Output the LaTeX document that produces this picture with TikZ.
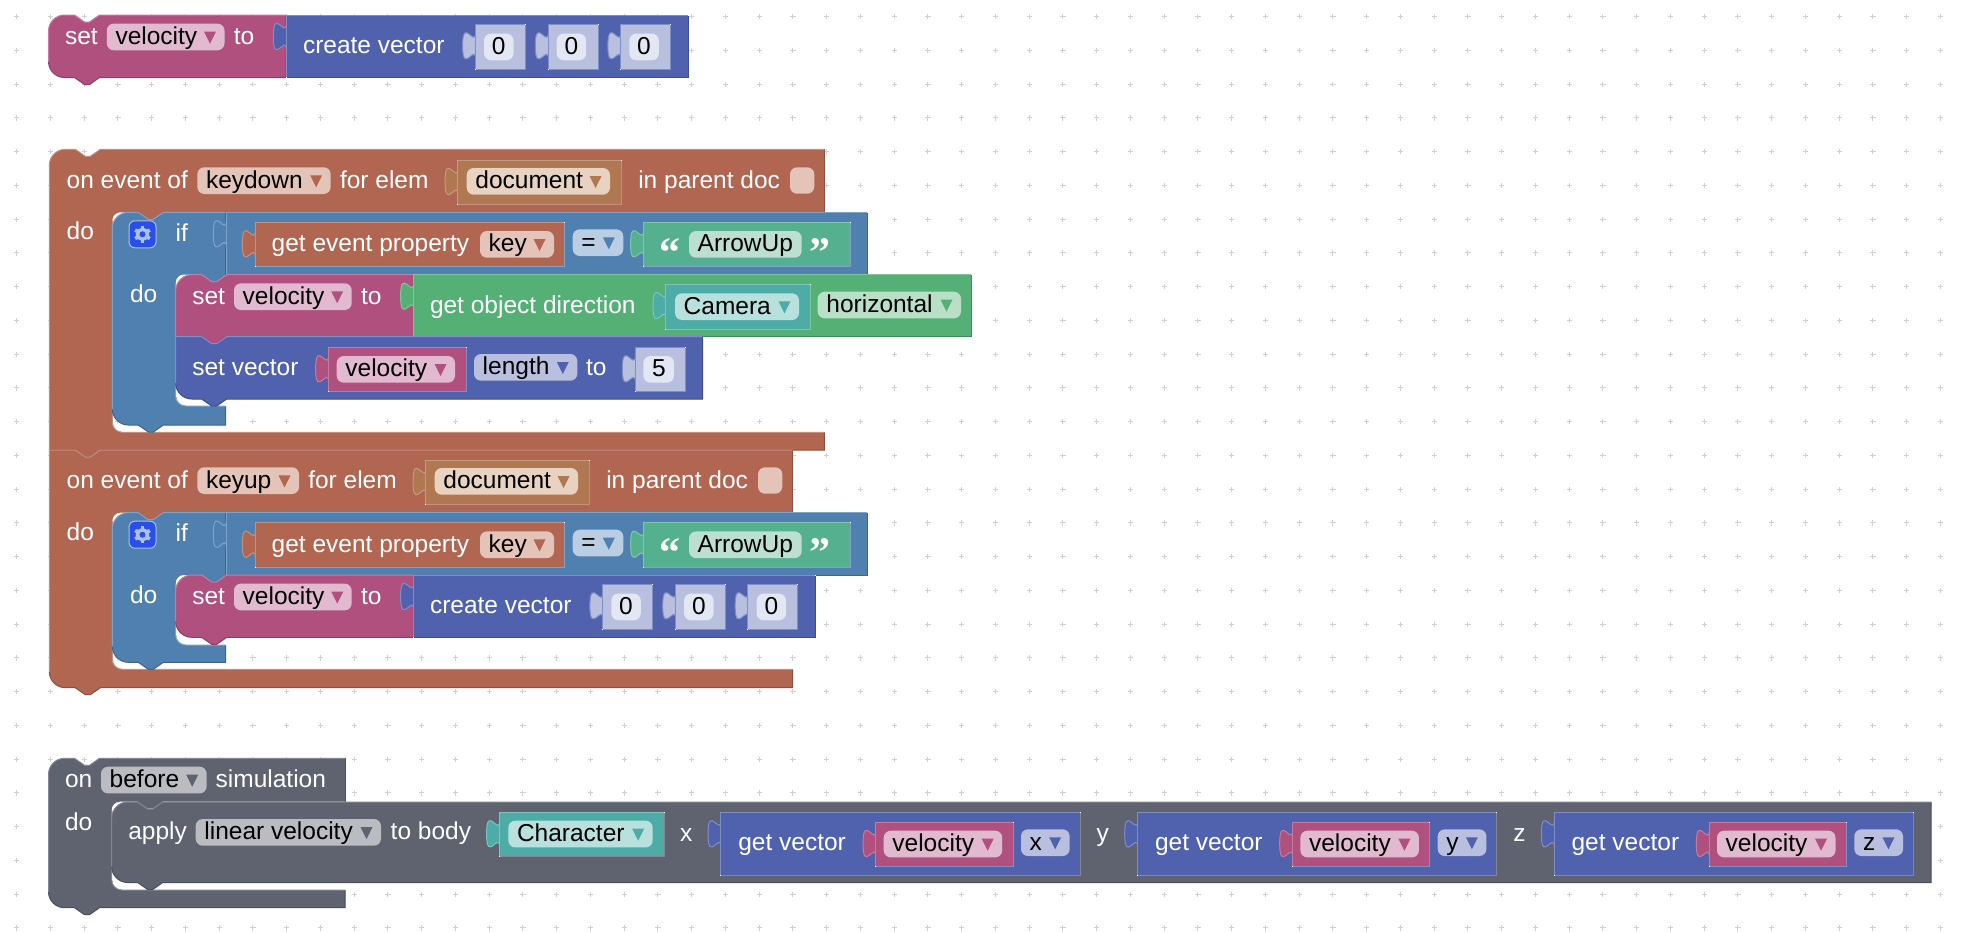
\documentclass[tikz,border=0pt]{standalone}
\usepackage{fontspec}
\setmainfont{Liberation Sans}
\newfontfamily\qfont{Liberation Serif}
% block colours: fill, light edge, dark edge, field
\definecolor{cM}{RGB}{176,80,127}\definecolor{cMl}{RGB}{196,125,160}\definecolor{cMd}{RGB}{140,62,100}\definecolor{cMf}{RGB}{226,186,208}
\definecolor{cV}{RGB}{80,98,174}\definecolor{cVl}{RGB}{128,142,200}\definecolor{cVd}{RGB}{62,77,140}\definecolor{cVf}{RGB}{184,191,223}\definecolor{cVw}{RGB}{227,230,243}
\definecolor{cG}{RGB}{84,176,116}\definecolor{cGl}{RGB}{130,197,153}\definecolor{cGd}{RGB}{66,140,92}\definecolor{cGf}{RGB}{186,223,199}
\definecolor{cT}{RGB}{78,172,166}\definecolor{cTl}{RGB}{125,196,191}\definecolor{cTf}{RGB}{184,225,222}
\definecolor{cS}{RGB}{84,176,142}\definecolor{cSl}{RGB}{130,197,172}\definecolor{cSf}{RGB}{187,223,209}
\definecolor{cB}{RGB}{80,128,176}\definecolor{cBl}{RGB}{128,163,197}\definecolor{cBd}{RGB}{62,100,140}\definecolor{cBf}{RGB}{185,206,227}
\definecolor{cE}{RGB}{176,102,80}\definecolor{cEl}{RGB}{197,143,127}\definecolor{cEd}{RGB}{140,80,62}\definecolor{cEf}{RGB}{228,195,184}
\definecolor{cD}{RGB}{176,120,80}\definecolor{cDl}{RGB}{197,155,127}\definecolor{cDf}{RGB}{232,210,194}
\definecolor{cK}{RGB}{95,99,112}\definecolor{cKl}{RGB}{132,135,146}\definecolor{cKd}{RGB}{74,78,88}\definecolor{cKf}{RGB}{186,188,194}
\definecolor{cGear}{RGB}{42,78,232}\definecolor{cGearL}{RGB}{172,192,228}
\definecolor{cDot}{RGB}{208,208,208}
\tikzset{
  edge/.style={line width=1pt},
  txt/.style={inner sep=0pt,outer sep=0pt,anchor=base west,font=\fontsize{24.5}{28}\selectfont},
}
\newcount\nn
% text: colour, x, baseline, string
\newcommand\tx[4]{\global\advance\nn by 1 \node[txt,text=#1] (t\the\nn) at (#2,#3) {#4};}
\newcommand\wt[3]{\tx{white}{#1}{#2}{#3}}
% dropdown field: fieldcol, tricol, x1, ytop, x2, text
\newcommand\fd[6]{\fill[#1,rounded corners=7pt] (#3,#4) rectangle (#5,#4+26.7);
  \fill[#2] (#5-20.5,#4+8) -- (#5-8.5,#4+8) -- (#5-14.5,#4+20) -- cycle;
  \tx{black}{#3+8.7}{#4+20.7}{#6}}
% value block with left puzzle tab: fill, light, under-edge, x1,y1,x2,y2
\newcommand\vb[7]{%
  \fill[#1,shift={(#4+0.5,#5+36.5)},xscale=1.65,yscale=2] (0,0) .. controls (0,-10) and (-8,8) .. (-8,-7.5) .. controls (-8,-23) and (0,-5) .. (0,-15) -- cycle;
  \draw[#2,edge,shift={(#4+0.5,#5+36.5)},xscale=1.65,yscale=2] (0,0) .. controls (0,-10) and (-8,8) .. (-8,-7.5) .. controls (-8,-23) and (0,-5) .. (0,-15);
  \fill[#1] (#4,#5) rectangle (#6,#7);
  \draw[#3,edge] (#6,#5) -- (#6,#7) -- (#4,#7);
  \draw[#2,edge] (#4,#7) -- (#4,#5) -- (#6,#5);
  \fill[white] (#4-0.5,#7-0.5) rectangle (#4+0.5,#7+0.5);
  \fill[white] (#6-0.5,#5-0.5) rectangle (#6+0.5,#5+0.5);}
% statement block: fill, light, dark, x0,y0,xR,yB,rTL,rBL
\newcommand\stm[9]{%
  \fill[#1] (#4,#7-#9) -- (#4,#5+#8) .. controls (#4,#5+.45*#8) and (#4+.45*#8,#5) .. (#4+#8,#5) -- (#4+26,#5) -- (#4+36,#5+7) -- (#4+41,#5+7) -- (#4+51,#5) -- (#6,#5) -- (#6,#7) -- (#4+51,#7) -- (#4+41,#7+7) -- (#4+36,#7+7) -- (#4+26,#7) -- (#4+#9,#7) .. controls (#4+.45*#9,#7) and (#4,#7-.45*#9) .. (#4,#7-#9) -- cycle;
  \draw[#3,edge] (#6,#5) -- (#6,#7) -- (#4+51,#7) -- (#4+41,#7+7) -- (#4+36,#7+7) -- (#4+26,#7) -- (#4+#9,#7) .. controls (#4+.45*#9,#7) and (#4,#7-.45*#9) .. (#4,#7-#9);
  \draw[#2,edge] (#4,#7-#9) -- (#4,#5+#8) .. controls (#4,#5+.45*#8) and (#4+.45*#8,#5) .. (#4+#8,#5) -- (#4+26,#5) -- (#4+36,#5+7) -- (#4+41,#5+7) -- (#4+51,#5) -- (#6,#5);}
% C-shaped block: \cgeo{xI}{yF}{yB}{xF}{rBL} then \cb{fill}{light}{dark}{x0}{y0}{xR}{yH}{rTL}
\newcommand\cgeo[5]{\def\gxI{#1}\def\gyF{#2}\def\gyB{#3}\def\gxF{#4}\def\grB{#5}}
\newcommand\cb[8]{%
  \fill[#1] (#4,\gyB-\grB) -- (#4,#5+#8) .. controls (#4,#5+.45*#8) and (#4+.45*#8,#5) .. (#4+#8,#5) -- (#4+26,#5) -- (#4+36,#5+7) -- (#4+41,#5+7) -- (#4+51,#5) -- (#6,#5) -- (#6,#7)
    -- (\gxI+51,#7) -- (\gxI+41,#7+7) -- (\gxI+36,#7+7) -- (\gxI+26,#7) -- (\gxI+8,#7) .. controls (\gxI+3.6,#7) and (\gxI,#7+3.6) .. (\gxI,#7+8) -- (\gxI,\gyF-10) .. controls (\gxI,\gyF-4.5) and (\gxI+4.5,\gyF) .. (\gxI+10,\gyF) -- (\gxF,\gyF) -- (\gxF,\gyB)
    -- (#4+51,\gyB) -- (#4+41,\gyB+7) -- (#4+36,\gyB+7) -- (#4+26,\gyB) -- (#4+\grB,\gyB) .. controls (#4+.45*\grB,\gyB) and (#4,\gyB-.45*\grB) .. (#4,\gyB-\grB) -- cycle;
  \draw[#3,edge] (#6,#5) -- (#6,#7);
  \draw[#3,edge] (\gxF,\gyF) -- (\gxF,\gyB) -- (#4+51,\gyB) -- (#4+41,\gyB+7) -- (#4+36,\gyB+7) -- (#4+26,\gyB) -- (#4+\grB,\gyB) .. controls (#4+.45*\grB,\gyB) and (#4,\gyB-.45*\grB) .. (#4,\gyB-\grB);
  \draw[#2,edge] (#4,\gyB-\grB) -- (#4,#5+#8) .. controls (#4,#5+.45*#8) and (#4+.45*#8,#5) .. (#4+#8,#5) -- (#4+26,#5) -- (#4+36,#5+7) -- (#4+41,#5+7) -- (#4+51,#5) -- (#6,#5);
  \draw[#2,edge] (\gxI,#7+8) -- (\gxI,\gyF-10) .. controls (\gxI,\gyF-4.5) and (\gxI+4.5,\gyF) .. (\gxI+10,\gyF) -- (\gxF,\gyF);}
% number input: x, row top, value, under-edge, (in a blue block)
\newcommand\num[3]{\vb{cVf}{cVl}{cVl}{#1}{#2+9.3}{#1+50}{#2+54.6}
  \fill[cVw,rounded corners=7pt] (#1+8.7,#2+18.6) rectangle (#1+38.2,#2+45.3);
  \tx{black}{#1+16.6}{#2+39.3}{#3}}
% gear icon: cx, cy
\newcommand\gear[2]{%
  \fill[cGear,rounded corners=6pt] (#1-13.5,#2-13.5) rectangle (#1+13.5,#2+13.5);
  \draw[cGearL,edge,rounded corners=6pt] (#1-13.5,#2-13.5) rectangle (#1+13.5,#2+13.5);
  \foreach \a in {30,90,...,330}{\draw[cGearL,line width=3.6pt] (#1,#2) ++(\a:5.5) -- ++(\a:3);}
  \draw[cGearL,line width=3.4pt] (#1,#2) circle (5);}
% variable block within any parent: x1,y1,x2,y2 plus field coordinates
\newcommand\varb[7]{\vb{cM}{cMl}{#7}{#1}{#2}{#3}{#4}\fd{cMf}{cM}{#1+#5}{#6}{#3-11}{velocity}}
% get vector: x
\newcommand\getv[2]{\vb{cV}{cVl}{cKl}{#1}{812.3}{#1+359.3}{875}
  \wt{#1+17.6}{850.7}{get vector}
  \varb{#1+155}{822}{#1+292.5}{866.7}{8}{830.7}{cVl}
  \fd{cVf}{cV}{#1+300.3}{829.3}{#1+349}{#2}}
% quoted text
\newcommand\qstr[3]{\vb{cS}{cSl}{cBl}{#1}{#2}{#1+206.7}{#2+44.4}
  \global\advance\nn by 1 \node[inner sep=0pt,anchor=base,text=white,font=\qfont\bfseries\fontsize{42}{42}\selectfont] (t\the\nn) at (#1+27,#2+44) {“};
  \global\advance\nn by 1 \node[inner sep=0pt,anchor=base,text=white,font=\qfont\bfseries\fontsize{42}{42}\selectfont] (t\the\nn) at (#1+177,#2+44) {”};
  \fill[cSf,rounded corners=7pt] (#1+45.7,#2+8.7) rectangle (#1+158.4,#2+35.4);
  \tx{black}{#1+54.4}{#2+29.4}{#3}}
\begin{document}
\begin{tikzpicture}[x=1pt,y=-1pt]
\useasboundingbox (0,0) rectangle (1962,932);
\fill[white] (0,0) rectangle (1962,932);
\foreach \i in {0,...,57}{\foreach \j in {0,...,27}{
  \draw[cDot,line width=1pt] (16.7+33.75*\i-2.6,16.7+33.75*\j) -- (16.7+33.75*\i+2.6,16.7+33.75*\j) (16.7+33.75*\i,16.7+33.75*\j-2.6) -- (16.7+33.75*\i,16.7+33.75*\j+2.6);
}}
% ---------- top set block
\stm{cM}{cMl}{cMd}{48.5}{15}{286}{77.5}{16}{16}
\wt{65}{44.3}{set}
\fd{cMf}{cM}{106.8}{23.6}{224.5}{velocity}
\wt{233.8}{44.3}{to}
\vb{cV}{cVl}{cVd}{286}{15}{688.3}{77.5}
\wt{303}{53.6}{create vector}
\num{475.3}{15}{0}\num{548}{15}{0}\num{620.6}{15}{0}
% ---------- keydown event
\cgeo{112.3}{432.3}{450}{824.3}{0}
\cb{cE}{cEl}{cEd}{49.3}{149.3}{824.3}{212.3}{16}
\wt{66.7}{188}{on event of}
\fd{cEf}{cE}{197.3}{167.3}{330.7}{keydown}
\wt{340}{188}{for elem}
\vb{cD}{cDl}{cEl}{457.7}{160}{621.7}{204.3}
\fd{cDf}{cD}{466.7}{168}{610}{document}
\wt{638.3}{188}{in parent doc}
\fill[cEf,rounded corners=7pt] (790,167.3) rectangle (814.3,193.7);
\wt{66.7}{239.3}{do}
\cgeo{175.7}{406}{425}{225.7}{16}
\cb{cB}{cBl}{cBd}{112.3}{212.3}{225.7}{274.5}{16}
\gear{142.5}{234.3}
\wt{175.7}{241}{if}
\wt{130}{302.7}{do}
\vb{cB}{cBl}{cBd}{226}{212.3}{867.7}{274.5}
\vb{cE}{cEl}{cBl}{255}{222.3}{564.3}{266.7}
\wt{271.7}{251.7}{get event property}
\fd{cEf}{cE}{480}{231}{554}{key}
\fd{cBf}{cB}{572.7}{229.3}{623.3}{=}
\qstr{643.3}{222.3}{ArrowUp}
\stm{cM}{cMl}{cMd}{175.7}{274.7}{413.3}{336.7}{16}{0}
\wt{192.3}{304}{set}
\fd{cMf}{cM}{234}{283.3}{351.7}{velocity}
\wt{361}{304}{to}
\vb{cG}{cGl}{cGd}{413.3}{274.7}{971}{336.7}
\wt{430}{313.3}{get object direction}
\vb{cT}{cTl}{cGl}{665.7}{284}{810}{329.3}
\fd{cTf}{cT}{675}{293.3}{799}{Camera}
\fd{cGf}{cG}{817.7}{291.7}{961}{horizontal}
\stm{cV}{cVl}{cVd}{175.7}{336.7}{702.7}{399}{0}{16}
\wt{192.3}{375}{set vector}
\varb{328.3}{347.3}{466}{391.7}{8.4}{356}{cVl}
\fd{cVf}{cV}{474}{354}{577.3}{length}
\wt{586}{375}{to}
\vb{cVf}{cVl}{cVl}{635}{347.3}{685}{391.7}
\fill[cVw,rounded corners=7pt] (643.3,356) rectangle (674,382.7);
\tx{black}{652}{376.7}{5}
% ---------- keyup event
\cgeo{112.3}{669.3}{687.7}{792.5}{16}
\cb{cE}{cEl}{cEd}{49.3}{450}{792.5}{512.7}{0}
\wt{66.7}{488.3}{on event of}
\fd{cEf}{cE}{197.3}{467.3}{299}{keyup}
\wt{308.3}{488.3}{for elem}
\vb{cD}{cDl}{cEl}{425.7}{460}{589.7}{504.3}
\fd{cDf}{cD}{434.7}{468}{578}{document}
\wt{606.3}{488.3}{in parent doc}
\fill[cEf,rounded corners=7pt] (758,467.3) rectangle (782.3,493.7);
\wt{66.7}{540}{do}
\cgeo{175.7}{645}{662.3}{225.7}{16}
\cb{cB}{cBl}{cBd}{112.3}{512.7}{225.7}{575}{16}
\gear{142.5}{534.7}
\wt{175.7}{541.4}{if}
\wt{130}{603}{do}
\vb{cB}{cBl}{cBd}{226}{512.7}{867.7}{575}
\vb{cE}{cEl}{cBl}{255}{522.7}{564.3}{567.1}
\wt{271.7}{552.1}{get event property}
\fd{cEf}{cE}{480}{531.4}{554}{key}
\fd{cBf}{cB}{572.7}{529.7}{623.3}{=}
\qstr{643.3}{522.7}{ArrowUp}
\stm{cM}{cMl}{cMd}{175.7}{575}{413.3}{637.3}{16}{16}
\wt{192.3}{604.3}{set}
\fd{cMf}{cM}{234}{583.6}{351.7}{velocity}
\wt{361}{604.3}{to}
\vb{cV}{cVl}{cVd}{413.3}{575}{815}{637.3}
\wt{430}{613.6}{create vector}
\num{602.6}{575}{0}\num{675.4}{575}{0}\num{747.9}{575}{0}
% ---------- before simulation
\cgeo{111.7}{890}{907.7}{345}{16}
\cb{cK}{cKl}{cKd}{48.5}{758.3}{345}{801.7}{16}
\wt{65}{787.3}{on}
\fd{cKf}{cK}{101}{766.7}{206.7}{before}
\wt{215.7}{787.3}{simulation}
\wt{65}{830}{do}
\stm{cK}{cKl}{cKd}{111.7}{802}{1931}{882.5}{16}{16}
\wt{128.3}{839.7}{apply}
\fd{cKf}{cK}{195.7}{819}{381}{linear velocity}
\wt{390.7}{839.7}{to body}
\vb{cT}{cTl}{cKl}{499.3}{812.3}{664}{856.7}
\fd{cTf}{cT}{508.3}{820.7}{652.7}{Character}
\wt{680}{841}{x}
\getv{720.7}{x}
\wt{1096.7}{841}{y}
\getv{1137.4}{y}
\wt{1513.3}{841}{z}
\getv{1554}{z}
\end{tikzpicture}
\end{document}
